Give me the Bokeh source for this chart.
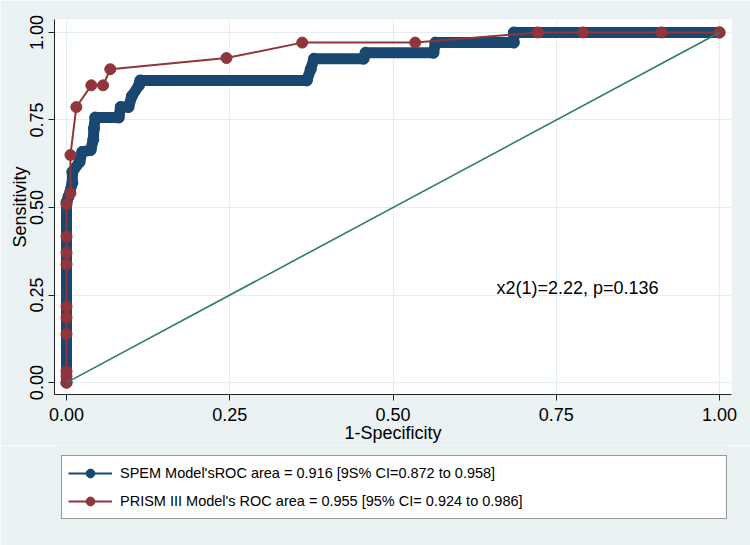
from bokeh.plotting import figure
from bokeh.layouts import column
from bokeh.models import Range1d, FixedTicker, NumeralTickFormatter, Legend, LegendItem, Label
from bokeh.embed import file_html
from bokeh.resources import INLINE

# ---- data ----
spem_fpr = [0.0, 0.0, 0.003, 0.009, 0.009, 0.020, 0.024, 0.037, 0.041, 0.042, 0.044,
            0.080, 0.083, 0.095, 0.100, 0.111, 0.113, 0.368, 0.374, 0.379, 0.455,
            0.458, 0.562, 0.565, 0.685, 0.685, 1.0]
spem_tpr = [0.0, 0.515, 0.531, 0.571, 0.602, 0.630, 0.659, 0.664, 0.694, 0.726, 0.757,
            0.757, 0.787, 0.787, 0.818, 0.849, 0.863, 0.863, 0.895, 0.925, 0.925,
            0.942, 0.942, 0.971, 0.971, 1.0, 1.0]

prism_fpr = [0.0, 0.0, 0.0, 0.0, 0.0, 0.0, 0.0, 0.0, 0.0, 0.0, 0.006, 0.006, 0.015,
             0.038, 0.056, 0.067, 0.245, 0.361, 0.534, 0.722, 0.791, 0.911, 1.0]
prism_tpr = [0.0, 0.018, 0.032, 0.139, 0.186, 0.217, 0.338, 0.371, 0.417, 0.509, 0.541,
             0.650, 0.787, 0.849, 0.849, 0.895, 0.927, 0.971, 0.971, 1.0, 1.0, 1.0, 1.0]

ref_x = [0.0, 1.0]
ref_y = [0.0, 1.0]

ticks = [0.0, 0.25, 0.5, 0.75, 1.0]

spem_label = "SPEM Model'sROC area = 0.916 [9S% CI=0.872 to 0.958]"
prism_label = "PRISM III Model's ROC area = 0.955 [95% CI= 0.924 to 0.986]"
chi_text = "x2(1)=2.22, p=0.136"

BLUE = "#1a476f"
RED = "#90353b"
GREEN = "#2f7b6b"
BG = "#eaf2f3"
FONT = "Liberation Sans"
NAN = float("nan")

p = figure(width=750, height=445, output_backend="svg", toolbar_location=None,
           x_range=Range1d(-0.0184, 1.0184), y_range=Range1d(-0.034, 1.037),
           min_border_left=54, min_border_right=19, min_border_top=19, min_border_bottom=50)
p.background_fill_color = "white"
p.border_fill_color = BG
p.outline_line_color = None

for ax in (p.xaxis[0], p.yaxis[0]):
    ax.ticker = FixedTicker(ticks=ticks)
    ax.formatter = NumeralTickFormatter(format="0.00")
    ax.major_tick_out = 6
    ax.major_tick_in = 0
    ax.minor_tick_line_color = None
    ax.axis_line_color = "#222222"
    ax.major_tick_line_color = "#222222"
    ax.major_label_text_font = FONT
    ax.major_label_text_font_size = "18px"
    ax.major_label_text_color = "black"
    ax.axis_label_text_font = FONT
    ax.axis_label_text_font_size = "18px"
    ax.axis_label_text_font_style = "normal"
    ax.axis_label_text_color = "black"

p.xaxis.axis_label = "1-Specificity"
p.yaxis.axis_label = "Sensitivity"
p.xaxis.major_label_standoff = 7
p.yaxis.major_label_standoff = 5
p.xaxis.axis_label_standoff = -1
p.yaxis.axis_label_standoff = -2
p.yaxis.major_label_orientation = "vertical"

for g in (p.xgrid[0], p.ygrid[0]):
    g.ticker = FixedTicker(ticks=ticks)
    g.grid_line_color = "#e4edf0"
    g.grid_line_width = 1

# SPEM (dense markers -> thick round line + markers at vertices)
p.line(spem_fpr, spem_tpr, line_color=BLUE, line_width=11,
       line_join="round", line_cap="round")
p.scatter(spem_fpr, spem_tpr, size=11, fill_color=BLUE, line_color=BLUE)

# PRISM III
p.line(prism_fpr, prism_tpr, line_color=RED, line_width=2)
p.scatter(prism_fpr, prism_tpr, size=11, fill_color=RED, line_color=RED)

# reference line
p.line(ref_x, ref_y, line_color=GREEN, line_width=1.6)

p.add_layout(Label(x=0.6585, y=0.2707, text=chi_text, text_font=FONT,
                   text_font_size="18px", text_baseline="middle", text_color="black"))

# ---- legend panel below the plot ----
q = figure(width=750, height=100, output_backend="svg", toolbar_location=None,
           x_range=Range1d(0, 1), y_range=Range1d(0, 1),
           min_border_left=0, min_border_right=0, min_border_top=0, min_border_bottom=0,
           x_axis_type=None, y_axis_type=None)
q.background_fill_color = BG
q.border_fill_color = BG
q.outline_line_color = None
q.xgrid.visible = False
q.ygrid.visible = False

# legend-only renderers (nothing visible in this panel)
l1 = q.line([NAN, NAN], [NAN, NAN], line_color=BLUE, line_width=2)
s1 = q.scatter([NAN], [NAN], size=11, fill_color=BLUE, line_color=BLUE)
l2 = q.line([NAN, NAN], [NAN, NAN], line_color=RED, line_width=2)
s2 = q.scatter([NAN], [NAN], size=11, fill_color=RED, line_color=RED)

legend = Legend(items=[LegendItem(label=spem_label, renderers=[l1, s1]),
                       LegendItem(label=prism_label, renderers=[l2, s2])],
                location=(7, 26), orientation="vertical")
legend.label_text_font = FONT
legend.label_text_font_size = "14.5px"
legend.label_text_color = "black"
legend.glyph_width = 44
legend.glyph_height = 22
legend.label_height = 22
legend.label_width = 600
legend.label_standoff = 8
legend.spacing = 6
legend.padding = 6
legend.margin = 0
legend.border_line_color = "#333333"
legend.border_line_width = 1
legend.background_fill_color = "white"
legend.background_fill_alpha = 1.0
q.add_layout(legend, "center")

layout = column(p, q, spacing=0)
open("out.html", "w").write(file_html(layout, INLINE))
